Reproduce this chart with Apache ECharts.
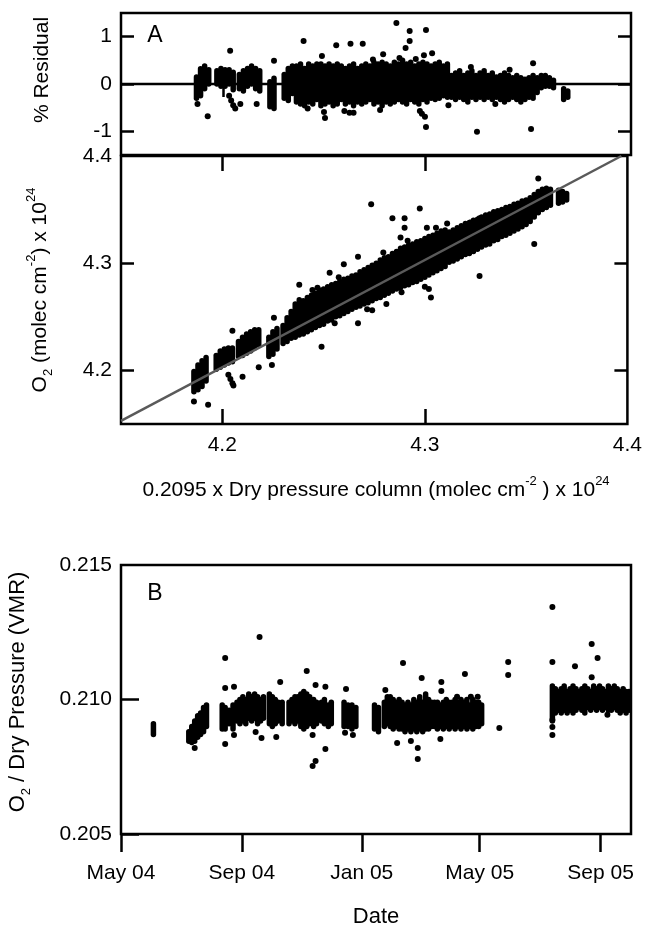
<!DOCTYPE html>
<html><head><meta charset="utf-8">
<script src="https://cdn.jsdelivr.net/npm/echarts@6/dist/echarts.min.js"></script>
<style>html,body{margin:0;padding:0;background:#fff}#c{width:645px;height:927px}</style>
</head><body><div id="c"></div>
<script>
// ---------- DATA ----------
// Panel A: % residual vs 0.2095 x dry pressure column (x1e24)
// strips: [x, residual low, residual high] (dense vertical groups of points)
const residualStrips = [
 [4.187,-0.30,0.15],[4.189,-0.25,0.32],[4.191,-0.10,0.38],[4.193,0.00,0.30],
 [4.197,0.00,0.28],[4.199,-0.05,0.33],[4.201,-0.05,0.30],[4.203,0.00,0.30],[4.205,-0.12,0.25],
 [4.208,-0.10,0.20],[4.210,-0.15,0.28],[4.212,-0.05,0.33],[4.214,0.00,0.38],[4.216,-0.10,0.33],[4.218,-0.15,0.28],
 [4.223,-0.48,0.05],[4.225,-0.52,0.12],
 [4.230,-0.30,0.20],[4.232,-0.35,0.33],[4.234,-0.20,0.38],
 [4.236,-0.38,0.38],[4.238,-0.42,0.42],[4.240,-0.46,0.33],[4.242,-0.38,0.42],[4.244,-0.42,0.38],[4.246,-0.33,0.42],
 [4.248,-0.46,0.42],[4.250,-0.42,0.38],[4.252,-0.38,0.42],[4.254,-0.46,0.38],[4.256,-0.42,0.42],[4.258,-0.33,0.38],
 [4.260,-0.42,0.33],[4.262,-0.38,0.38],[4.264,-0.46,0.42],[4.266,-0.38,0.33],[4.268,-0.42,0.38],[4.270,-0.38,0.42],
 [4.272,-0.33,0.38],[4.274,-0.42,0.46],[4.276,-0.38,0.42],[4.278,-0.46,0.46],[4.280,-0.38,0.42],[4.282,-0.42,0.38],
 [4.284,-0.38,0.46],[4.286,-0.33,0.42],[4.288,-0.38,0.50],[4.290,-0.42,0.42],[4.292,-0.33,0.46],[4.294,-0.38,0.38],
 [4.296,-0.42,0.42],[4.298,-0.33,0.46],[4.300,-0.38,0.42],[4.302,-0.30,0.38],[4.304,-0.33,0.42],[4.306,-0.30,0.46],
 [4.308,-0.25,0.38],[4.310,-0.28,0.42],
 [4.312,-0.28,0.18],[4.314,-0.33,0.23],[4.316,-0.28,0.28],[4.318,-0.33,0.18],[4.320,-0.38,0.23],[4.322,-0.28,0.28],
 [4.324,-0.33,0.18],[4.326,-0.28,0.23],[4.328,-0.33,0.28],[4.330,-0.28,0.18],[4.332,-0.33,0.23],[4.334,-0.28,0.15],
 [4.336,-0.33,0.18],[4.338,-0.38,0.23],[4.340,-0.33,0.18],[4.342,-0.28,0.13],[4.344,-0.33,0.18],[4.346,-0.38,0.13],
 [4.348,-0.33,0.10],[4.350,-0.28,0.13],[4.352,-0.30,0.18],[4.354,-0.18,0.13],[4.356,-0.08,0.18],[4.358,-0.05,0.18],
 [4.360,-0.05,0.13],[4.362,-0.08,0.08],[4.367,-0.33,-0.10],[4.369,-0.28,-0.15]
];
const residualPoints = [
 [4.1875,-0.42],[4.1925,-0.68],[4.2035,0.70],[4.2085,-0.42],[4.2165,-0.42],[4.225,0.49],[4.2395,0.91],
 [4.2485,0.59],[4.2555,0.82],[4.2625,0.85],[4.2685,0.85],[4.2785,0.63],[4.285,1.29],[4.2915,1.12],
 [4.2915,0.91],[4.2895,0.76],[4.2995,1.14],[4.2985,0.61],[4.3025,0.65],[4.2495,-0.59],[4.250,-0.72],
 [4.2595,-0.57],[4.262,-0.61],[4.264,-0.61],[4.277,-0.55],[4.2965,-0.57],[4.2975,-0.63],[4.299,-0.69],
 [4.2995,-0.91],[4.3245,-1.01],[4.351,-0.95],[4.352,0.44],[4.203,-0.25],[4.204,-0.35],[4.205,-0.45],[4.206,-0.52],
 [4.2415,-0.52],[4.2735,0.52],[4.2865,0.55],[4.2945,0.53],[4.3105,-0.45],[4.3215,0.36],[4.3335,-0.42],[4.3405,0.30]
];
// Middle panel: O2 column vs 0.2095 x dry pressure column
const o2Strips = [
 [4.186,4.180,4.199],[4.188,4.182,4.205],[4.190,4.185,4.209],[4.192,4.190,4.212],
 [4.197,4.201,4.214],[4.199,4.203,4.218],[4.201,4.205,4.220],[4.203,4.207,4.221],[4.205,4.208,4.221],
 [4.208,4.213,4.227],[4.210,4.214,4.231],[4.212,4.216,4.234],[4.214,4.218,4.236],[4.216,4.221,4.238],[4.218,4.224,4.238],
 [4.223,4.213,4.231],[4.225,4.215,4.236],[4.227,4.220,4.239],
 [4.230,4.225,4.242],[4.232,4.227,4.249],[4.234,4.230,4.255],
 [4.236,4.231,4.262],[4.238,4.233,4.266],[4.240,4.234,4.265],[4.242,4.236,4.268],[4.244,4.238,4.270],[4.246,4.240,4.272],
 [4.248,4.242,4.275],[4.250,4.243,4.276],[4.252,4.246,4.278],[4.254,4.247,4.280],[4.256,4.250,4.281],[4.258,4.251,4.283],
 [4.260,4.253,4.285],[4.262,4.255,4.286],[4.264,4.257,4.288],[4.266,4.259,4.289],[4.268,4.260,4.292],[4.270,4.262,4.294],
 [4.272,4.263,4.296],[4.274,4.265,4.298],[4.276,4.267,4.300],[4.278,4.268,4.303],[4.280,4.270,4.305],[4.282,4.272,4.306],
 [4.284,4.274,4.309],[4.286,4.276,4.311],[4.288,4.277,4.314],[4.290,4.279,4.315],[4.292,4.280,4.317],[4.294,4.282,4.318],
 [4.296,4.283,4.320],[4.298,4.285,4.321],[4.300,4.287,4.323],[4.302,4.289,4.325],[4.304,4.291,4.326],[4.306,4.293,4.328],
 [4.308,4.295,4.330],[4.310,4.297,4.331],[4.312,4.301,4.329],[4.314,4.302,4.331],[4.316,4.304,4.333],[4.318,4.306,4.335],
 [4.320,4.308,4.337],[4.322,4.309,4.338],[4.324,4.311,4.340],[4.326,4.313,4.341],[4.328,4.315,4.343],[4.330,4.317,4.345],
 [4.332,4.318,4.346],[4.334,4.321,4.348],[4.336,4.322,4.349],[4.338,4.325,4.350],[4.340,4.326,4.352],[4.342,4.328,4.353],
 [4.344,4.330,4.355],[4.346,4.332,4.356],[4.348,4.334,4.358],[4.350,4.336,4.359],[4.352,4.339,4.361],[4.354,4.343,4.364],
 [4.356,4.347,4.367],[4.358,4.350,4.369],[4.360,4.352,4.370],[4.362,4.354,4.369],[4.366,4.356,4.368],[4.368,4.357,4.367],
 [4.370,4.359,4.365]
];
const o2Points = [
 [4.186,4.171],[4.193,4.168],[4.205,4.237],[4.210,4.194],[4.218,4.203],[4.2255,4.249],[4.2245,4.205],
 [4.238,4.280],[4.253,4.291],[4.249,4.222],[4.2735,4.355],[4.2975,4.351],[4.284,4.342],[4.290,4.342],
 [4.290,4.333],[4.288,4.324],[4.301,4.333],[4.267,4.306],[4.260,4.299],[4.247,4.277],[4.327,4.288],
 [4.303,4.268],[4.302,4.276],[4.300,4.278],[4.281,4.262],[4.274,4.256],[4.267,4.244],[4.3225,4.338],
 [4.327,4.342],[4.311,4.337],[4.356,4.379],[4.354,4.318],[4.203,4.196],[4.204,4.192],[4.205,4.188],[4.2055,4.186],
 [4.2445,4.275],[4.2575,4.287],[4.2795,4.310],[4.2915,4.321],[4.3055,4.333],[4.2555,4.244],[4.2715,4.257],[4.2885,4.273]
];
const fitLine = [[4.15,4.153],[4.397,4.4]];
// Panel B: O2 / dry pressure vs date
const ratioStrips = [
 ['2004-06-03',0.2087,0.2091],
 ['2004-07-09',0.20845,0.2088],['2004-07-12',0.2084,0.2090],['2004-07-15',0.20845,0.2092],['2004-07-18',0.2086,0.2094],
 ['2004-07-21',0.2087,0.2095],['2004-07-24',0.2088,0.2097],['2004-07-27',0.2090,0.2098],
 ['2004-08-12',0.2089,0.2098],['2004-08-15',0.2089,0.2097],['2004-08-19',0.2091,0.2096],['2004-08-23',0.2089,0.2098],
 ['2004-08-27',0.2092,0.2099],['2004-08-30',0.2091,0.2100],['2004-09-02',0.2092,0.2101],['2004-09-05',0.2091,0.2100],
 ['2004-09-08',0.2093,0.2102],['2004-09-11',0.2092,0.2101],['2004-09-14',0.2093,0.2102],['2004-09-17',0.2091,0.2101],
 ['2004-09-20',0.2092,0.2100],['2004-09-23',0.2093,0.2101],
 ['2004-09-29',0.2091,0.2102],['2004-10-02',0.2090,0.2101],['2004-10-05',0.2091,0.2100],['2004-10-08',0.2092,0.2099],
 ['2004-10-12',0.2091,0.2099],
 ['2004-10-19',0.2091,0.2099],['2004-10-22',0.2092,0.2100],['2004-10-25',0.2091,0.2101],['2004-10-28',0.2092,0.2101],
 ['2004-10-31',0.2090,0.2102],['2004-11-03',0.2089,0.2103],['2004-11-06',0.2090,0.2102],['2004-11-09',0.2091,0.2101],
 ['2004-11-13',0.2090,0.2100],['2004-11-16',0.2091,0.2099],
 ['2004-11-21',0.2092,0.2099],['2004-11-24',0.2091,0.2100],['2004-11-28',0.2090,0.2098],['2004-12-01',0.2091,0.2099],
 ['2004-12-14',0.2090,0.2099],['2004-12-18',0.2090,0.2098],['2004-12-22',0.2089,0.2098],['2004-12-26',0.2090,0.2097],
 ['2005-01-14',0.2089,0.2098],['2005-01-18',0.2088,0.2097],
 ['2005-01-24',0.2090,0.2099],['2005-01-27',0.2091,0.2101],['2005-01-30',0.2090,0.2101],['2005-02-02',0.2089,0.2100],
 ['2005-02-05',0.2090,0.2099],['2005-02-08',0.2089,0.2100],
 ['2005-02-11',0.2089,0.2099],['2005-02-14',0.2088,0.2098],['2005-02-17',0.2089,0.2099],['2005-02-20',0.2088,0.2098],
 ['2005-02-23',0.2089,0.2100],['2005-02-26',0.2088,0.2099],['2005-03-01',0.2089,0.2101],['2005-03-04',0.2088,0.2099],
 ['2005-03-07',0.2089,0.2102],['2005-03-10',0.2089,0.2100],['2005-03-13',0.2090,0.2099],
 ['2005-03-16',0.2090,0.2099],['2005-03-19',0.2089,0.2099],['2005-03-22',0.2090,0.2098],['2005-03-25',0.2089,0.2099],
 ['2005-03-28',0.2090,0.2100],['2005-03-31',0.2089,0.2099],['2005-04-03',0.2090,0.2099],
 ['2005-04-06',0.2089,0.2100],['2005-04-09',0.2090,0.2099],['2005-04-12',0.2089,0.2100],['2005-04-15',0.2090,0.2099],
 ['2005-04-18',0.2089,0.2100],['2005-04-21',0.2090,0.2098],['2005-04-24',0.2089,0.2100],['2005-04-27',0.2090,0.2099],
 ['2005-04-30',0.2090,0.2099],['2005-05-03',0.2091,0.2098],
 ['2005-07-14',0.2092,0.2105],['2005-07-17',0.2095,0.2104],['2005-07-20',0.2096,0.2103],['2005-07-23',0.2095,0.2104],
 ['2005-07-26',0.2096,0.2105],['2005-07-29',0.2095,0.2103],['2005-08-01',0.2096,0.2104],['2005-08-04',0.2095,0.2105],
 ['2005-08-07',0.2096,0.2104],['2005-08-10',0.2097,0.2103],['2005-08-13',0.2096,0.2104],['2005-08-16',0.2095,0.2105],
 ['2005-08-19',0.2097,0.2104],['2005-08-22',0.2096,0.2103],['2005-08-25',0.2097,0.2105],['2005-08-28',0.2096,0.2104],
 ['2005-08-31',0.2097,0.2105],['2005-09-03',0.2096,0.2104],['2005-09-06',0.2097,0.2103],['2005-09-09',0.2096,0.2105],
 ['2005-09-12',0.2096,0.2104],['2005-09-15',0.2097,0.2105],['2005-09-18',0.2096,0.2104],['2005-09-21',0.2095,0.2103],
 ['2005-09-24',0.2096,0.2104],['2005-09-27',0.2095,0.2103],['2005-09-30',0.2096,0.2103]
];
const ratioPoints = [
 ['2004-07-15',0.2082],['2004-08-15',0.21043],['2004-08-24',0.21047],['2004-08-15',0.21154],['2004-08-15',0.20835],
 ['2004-08-24',0.20868],['2004-09-19',0.21232],['2004-09-21',0.20857],['2004-09-15',0.20879],['2004-10-10',0.21065],
 ['2004-10-06',0.20861],['2004-11-06',0.21106],['2004-11-15',0.21054],['2004-11-12',0.20868],['2004-11-25',0.21047],
 ['2004-11-25',0.20816],['2004-11-15',0.20771],['2004-11-12',0.20753],['2004-12-16',0.21039],['2004-12-15',0.20876],
 ['2004-12-23',0.20868],['2005-01-25',0.21035],['2005-02-06',0.20838],['2005-02-12',0.21136],['2005-03-03',0.2108],
 ['2005-02-20',0.20846],['2005-02-27',0.2082],['2005-02-27',0.20779],['2005-03-23',0.21065],['2005-03-23',0.21032],
 ['2005-03-22',0.20853],['2005-04-16',0.21095],['2005-04-08',0.2101],['2005-04-22',0.2101],['2005-04-29',0.2101],
 ['2005-05-21',0.20894],['2005-05-30',0.21139],['2005-05-30',0.21091],['2005-07-14',0.21344],['2005-07-14',0.21139],
 ['2005-08-23',0.21206],['2005-08-29',0.21154],['2005-08-06',0.21124],['2005-08-23',0.21083],['2005-07-14',0.20898],
 ['2005-07-14',0.20868],['2005-07-14',0.20924],['2005-09-08',0.20943]
];
// Axes / ticks
const colRange = [4.15, 4.4];
const colLabelValues = [4.2, 4.3, 4.4];
const colTickValues = [4.2, 4.3];
const residualRange = [-1.5, 1.5];
const residualTickValues = [-1, 0, 1];
const ratioRange = [0.205, 0.215];
const ratioLabelValues = [0.205, 0.210, 0.215];
const ratioTickValues = [0.205, 0.210];
const dateRange = ['2004-05-01', '2005-10-02'];
const dateTickValues = ['2004-05-01', '2004-09-01', '2005-01-01', '2005-05-01', '2005-09-01'];
const dateTickLabels = ['May 04', 'Sep 04', 'Jan 05', 'May 05', 'Sep 05'];

// ---------- CHART ----------
const FONT = 'Liberation Sans, Arial, Helvetica, sans-serif';
const FS = 21;
const toTs = s => { const p = s.split('-').map(Number); return Date.UTC(p[0], p[1] - 1, p[2]); };
const dateTs = dateTickValues.map(toTs);

const chart = echarts.init(document.getElementById('c'), null, { renderer: 'canvas' });

function stripRender(params, api) {
  const x = api.value(0), lo = api.value(1), hi = api.value(2);
  const p1 = api.coord([x, lo]), p2 = api.coord([x, hi]);
  return { type: 'line', shape: { x1: p1[0], y1: p1[1], x2: p2[0], y2: p2[1] },
    style: { stroke: '#000', lineWidth: 5.5, lineCap: 'round' } };
}
const tickStyle = { color: '#000', width: 2.5 };
const lblStyle = { color: '#000', fontSize: FS, fontFamily: FONT };
const dotStyle = { color: '#000', opacity: 1 };
function vAxis(grid, pos, range, ticks, tickLen, labels, fmt, inside) {
  return {
    type: 'value', gridIndex: grid, position: pos, min: range[0], max: range[1],
    axisLine: { show: false }, splitLine: { show: false },
    axisTick: { show: true, inside: inside !== false, length: tickLen, customValues: ticks, lineStyle: tickStyle },
    axisLabel: labels ? Object.assign({ show: true, customValues: labels, formatter: fmt, margin: 9 }, lblStyle) : { show: false }
  };
}
const grids = [
  { left: 121, width: 510, top: 13, height: 142 },
  { left: 121, width: 510, top: 156, height: 268 },
  { left: 121, width: 510, top: 565, height: 269 }
].map(g => Object.assign({ show: true, borderColor: '#000', borderWidth: 2.5, backgroundColor: 'transparent', containLabel: false }, g));

const xMidBottom = vAxis(1, 'bottom', colRange, colTickValues, 15, colLabelValues, v => v.toFixed(1));
xMidBottom.axisLabel.margin = 11;
const xDate = vAxis(2, 'bottom', dateRange.map(toTs), dateTs, 18, dateTs,
  v => { const i = dateTs.indexOf(v); return i >= 0 ? dateTickLabels[i] : ''; }, false);
xDate.axisLabel.margin = 29;

const option = {
  animation: false,
  backgroundColor: '#fff',
  grid: grids,
  xAxis: [
    vAxis(0, 'bottom', colRange, colTickValues, 13),
    vAxis(0, 'top', colRange, colTickValues, 13),
    xMidBottom,
    vAxis(1, 'top', colRange, colTickValues, 15),
    xDate
  ],
  yAxis: [
    vAxis(0, 'left', residualRange, residualTickValues, 13, residualTickValues, v => String(Math.round(v))),
    vAxis(0, 'right', residualRange, residualTickValues, 13),
    vAxis(1, 'left', colRange, colTickValues, 13, colLabelValues, v => v.toFixed(1)),
    vAxis(1, 'right', colRange, colTickValues, 13),
    vAxis(2, 'left', ratioRange, ratioTickValues, 18, ratioLabelValues, v => v.toFixed(3))
  ],
  series: [
    { type: 'custom', xAxisIndex: 0, yAxisIndex: 0, renderItem: stripRender, data: residualStrips, z: 3 },
    { type: 'scatter', xAxisIndex: 0, yAxisIndex: 0, data: residualPoints, symbolSize: 6, itemStyle: dotStyle, z: 3 },
    { type: 'line', xAxisIndex: 0, yAxisIndex: 0, data: [[colRange[0], 0], [colRange[1], 0]], symbol: 'none',
      lineStyle: { color: '#000', width: 2.5 }, z: 2 },
    { type: 'custom', xAxisIndex: 2, yAxisIndex: 2, renderItem: stripRender, data: o2Strips, z: 3 },
    { type: 'scatter', xAxisIndex: 2, yAxisIndex: 2, data: o2Points, symbolSize: 6, itemStyle: dotStyle, z: 3 },
    { type: 'line', xAxisIndex: 2, yAxisIndex: 2, data: fitLine, symbol: 'none',
      lineStyle: { color: '#5a5a5a', width: 2.5 }, z: 4 },
    { type: 'custom', xAxisIndex: 4, yAxisIndex: 4, renderItem: stripRender,
      data: ratioStrips.map(d => [toTs(d[0]), d[1], d[2]]), z: 3 },
    { type: 'scatter', xAxisIndex: 4, yAxisIndex: 4, data: ratioPoints.map(d => [toTs(d[0]), d[1]]), symbolSize: 6,
      itemStyle: dotStyle, z: 3 }
  ],
  graphic: [
    { type: 'text', x: 155, y: 36, style: { text: 'A', font: '23px ' + FONT, fill: '#000', align: 'center', verticalAlign: 'middle' } },
    { type: 'text', x: 155, y: 594, style: { text: 'B', font: '23px ' + FONT, fill: '#000', align: 'center', verticalAlign: 'middle' } },
    { type: 'text', x: 42, y: 70, rotation: Math.PI / 2,
      style: { text: '% Residual', font: FS + 'px ' + FONT, fill: '#000', align: 'center', verticalAlign: 'middle' } },
    { type: 'text', x: 40, y: 290, rotation: Math.PI / 2,
      style: { text: '{b|O}{sub|2}{b| (molec cm}{sup|-2}{b|) x 10}{sup|24}', align: 'center', verticalAlign: 'middle',
        rich: { b: { fontSize: FS, fontFamily: FONT, fill: '#000', lineHeight: 30 },
                sub: { fontSize: 13, fontFamily: FONT, fill: '#000', lineHeight: 11, verticalAlign: 'bottom' },
                sup: { fontSize: 13, fontFamily: FONT, fill: '#000', lineHeight: 13, verticalAlign: 'top' } } } },
    { type: 'text', x: 376, y: 490,
      style: { text: '{b|0.2095 x Dry pressure column (molec cm}{sup|-2}{b| ) x 10}{sup|24}', align: 'center', verticalAlign: 'middle',
        rich: { b: { fontSize: FS, fontFamily: FONT, fill: '#000', lineHeight: 30 },
                sup: { fontSize: 13, fontFamily: FONT, fill: '#000', lineHeight: 13, verticalAlign: 'top' } } } },
    { type: 'text', x: 18, y: 692, rotation: Math.PI / 2,
      style: { text: '{b|O}{sub|2}{b| / Dry Pressure (VMR)}', align: 'center', verticalAlign: 'middle',
        rich: { b: { fontSize: 22, fontFamily: FONT, fill: '#000', lineHeight: 30 },
                sub: { fontSize: 13, fontFamily: FONT, fill: '#000', lineHeight: 11, verticalAlign: 'bottom' } } } },
    { type: 'text', x: 376, y: 917, style: { text: 'Date', font: '22px ' + FONT, fill: '#000', align: 'center', verticalAlign: 'middle' } }
  ]
};
chart.setOption(option);
</script></body></html>
